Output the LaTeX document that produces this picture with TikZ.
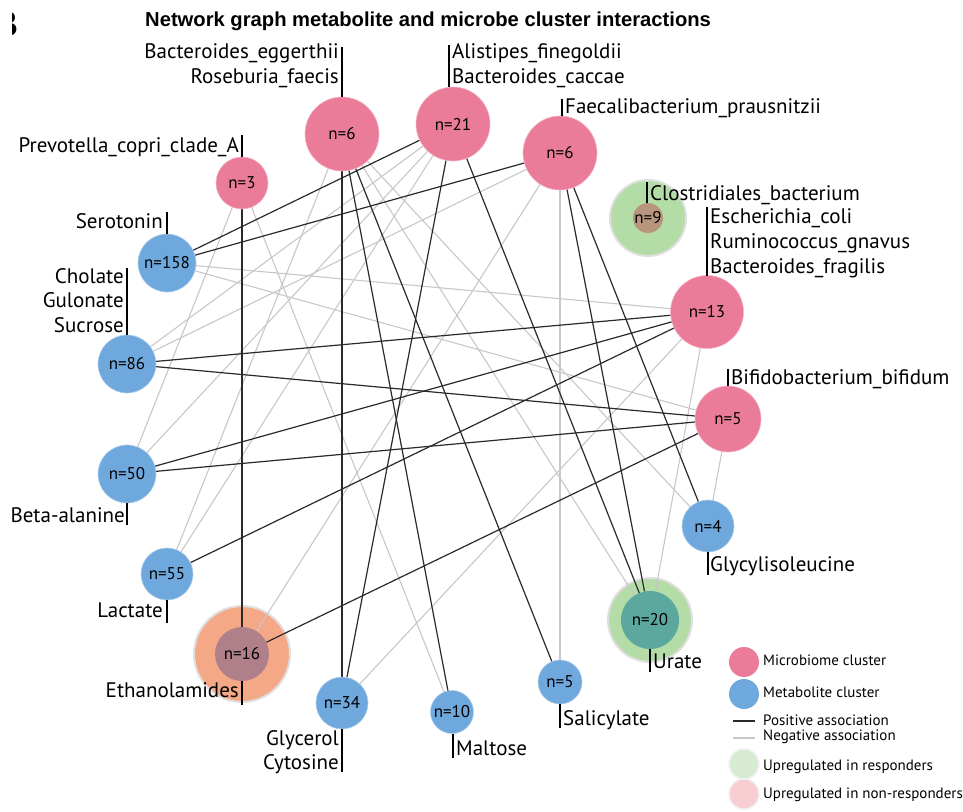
\documentclass[tikz,border=0pt]{standalone}
\usepackage{fontspec}
\setmainfont{PT Sans}
\newfontfamily\titlefont{Liberation Sans}
\pgfdeclarelayer{paper}
\pgfdeclarelayer{rings}
\pgfdeclarelayer{edges}
\pgfsetlayers{paper,rings,edges,main}
\definecolor{micro}{HTML}{EA7B99}
\definecolor{metab}{HTML}{6EA8DC}
\definecolor{resp}{HTML}{B3DCA7}
\definecolor{brownin}{HTML}{B8967E}
\definecolor{tealin}{HTML}{5CA89F}
\definecolor{orangeout}{HTML}{F4A886}
\definecolor{mauvein}{HTML}{B0808A}
\definecolor{posline}{HTML}{2A2A2A}
\definecolor{negline}{HTML}{C8C8C8}
\definecolor{legresp}{HTML}{D6EBD1}
\definecolor{legnon}{HTML}{F8CDD2}
\begin{document}
\begin{tikzpicture}[x=1pt,y=-1pt,
  clus/.style={circle, inner sep=0pt, outer sep=0pt, font=\fontsize{17}{17}\selectfont},
  mic/.style={clus, fill=micro, draw=micro!55!white, line width=0.6pt},
  met/.style={clus, fill=metab, draw=metab!55!white, line width=0.6pt},
  ringg/.style={circle, inner sep=0pt, fill=resp, draw=black!12, line width=2pt},
  ringo/.style={circle, inner sep=0pt, fill=orangeout, draw=black!12, line width=2pt},
  posedge/.style={draw=posline, line width=1.2pt},
  negedge/.style={draw=negline, line width=1.1pt},
  tick/.style={draw=black, line width=1.3pt},
  lab/.style={font=\fontsize{21}{21}\selectfont, inner sep=0pt},
  leg/.style={font=\fontsize{15}{15}\selectfont, inner sep=0pt, anchor=west},
  legdot/.style={circle, inner sep=0pt, minimum size=30pt}
]
\path[use as bounding box] (0,0) rectangle (963,811);
\clip (0,0) rectangle (963,811);
\begin{pgfonlayer}{paper}
\fill[white] (0,0) rectangle (963,811);
\end{pgfonlayer}

% title and clipped panel letter
\begin{scope}
\clip (12,0) rectangle (22,45);
\node[font=\titlefont\bfseries\fontsize{36}{36}\selectfont, anchor=base east, inner sep=0pt] (panel) at (19,36) {B};
\end{scope}
\node[font=\titlefont\bfseries\fontsize{20.2}{20.2}\selectfont, anchor=base west, inner sep=0pt] (title) at (145,27) {Network graph metabolite and microbe cluster interactions};

% outer rings
\begin{pgfonlayer}{rings}
\node[ringg, minimum size=76pt] (c9ring) at (648,218) {};
\node[ringg, minimum size=84pt] (u20ring) at (650,620) {};
\node[ringo, minimum size=96pt] (e16ring) at (242,654) {};
\end{pgfonlayer}

% microbiome clusters
\node[mic, minimum size=52pt] (p3) at (242,183) {n=3};
\node[mic, minimum size=74pt] (e6) at (342,134) {n=6};
\node[mic, minimum size=74pt] (a21) at (453,124) {n=21};
\node[mic, minimum size=74pt] (f6) at (560,153) {n=6};
\node[clus, fill=brownin, minimum size=30pt] (c9) at (648,218) {n=9};
\node[mic, minimum size=73pt] (m13) at (707,312) {n=13};
\node[mic, minimum size=66pt] (b5) at (728,419) {n=5};

% metabolite clusters
\node[met, minimum size=52pt] (g4) at (708,526) {n=4};
\node[clus, fill=tealin, minimum size=58pt] (u20) at (650,620) {n=20};
\node[met, minimum size=44pt] (s5) at (560,682) {n=5};
\node[met, minimum size=43pt] (m10) at (452,712) {n=10};
\node[met, minimum size=52pt] (g34) at (342,703) {n=34};
\node[clus, fill=mauvein, minimum size=54pt] (e16) at (242,654) {n=16};
\node[met, minimum size=52pt] (l55) at (167,574) {n=55};
\node[met, minimum size=58pt] (b50) at (127,474) {n=50};
\node[met, minimum size=58pt] (c86) at (127,364) {n=86};
\node[met, minimum size=58pt] (s158) at (167,263) {n=158};

% associations
\begin{pgfonlayer}{edges}
\draw[negedge] (p3) -- (b50);
\draw[negedge] (p3) -- (m10);
\draw[negedge] (e6) -- (l55);
\draw[negedge] (e6) -- (g4);
\draw[negedge] (e6) -- (u20);
\draw[negedge] (a21) -- (c86);
\draw[negedge] (a21) -- (b50);
\draw[negedge] (a21) -- (l55);
\draw[negedge] (f6) -- (c86);
\draw[negedge] (f6) -- (e16);
\draw[negedge] (f6) -- (s5);
\draw[negedge] (m13) -- (s158);
\draw[negedge] (m13) -- (g34);
\draw[negedge] (m13) -- (u20);
\draw[negedge] (b5) -- (s158);
\draw[negedge] (b5) -- (g4);
\draw[posedge] (p3) -- (e16);
\draw[posedge] (e6) -- (g34);
\draw[posedge] (e6) -- (m10);
\draw[posedge] (e6) -- (s5);
\draw[posedge] (a21) -- (s158);
\draw[posedge] (a21) -- (g34);
\draw[posedge] (a21) -- (u20);
\draw[posedge] (f6) -- (s158);
\draw[posedge] (f6) -- (u20);
\draw[posedge] (f6) -- (g4);
\draw[posedge] (m13) -- (c86);
\draw[posedge] (m13) -- (b50);
\draw[posedge] (m13) -- (l55);
\draw[posedge] (b5) -- (c86);
\draw[posedge] (b5) -- (b50);
\draw[posedge] (b5) -- (e16);
\end{pgfonlayer}

% label ticks
\draw[tick] (p3.north) -- ++(0,-22);
\draw[tick] (e6.north) -- ++(0,-50);
\draw[tick] ([xshift=-4pt]a21.north) -- ++(0,-42);
\draw[tick] ([xshift=2pt]f6.north) -- ++(0,-17);
\draw[tick] ([xshift=-1pt]c9.north) -- ++(0,-21);
\draw[tick] (m13.north) -- ++(0,-69);
\draw[tick] (b5.north) -- ++(0,-17);
\draw[tick] (s158.north) -- ++(0,-22);
\draw[tick] (c86.north) -- ++(0,-67);
\draw[tick] (b50.south) -- ++(0,22);
\draw[tick] (g4.south) -- ++(0,23);
\draw[tick] (l55.south) -- ++(0,23);
\draw[tick] (u20.south) -- ++(0,23);
\draw[tick] (e16.south) -- ++(0,24);
\draw[tick] (s5.south) -- ++(0,24);
\draw[tick] ([xshift=1pt]m10.south) -- ++(0,24);
\draw[tick] (g34.south) -- ++(0,43);

% labels
\node[lab, anchor=base east] (lEgg) at (339,58) {Bacteroides\_eggerthii};
\node[lab, anchor=base east] (lRos) at (339,83) {Roseburia\_faecis};
\node[lab, anchor=base west] (lAli) at (452,58) {Alistipes\_finegoldii};
\node[lab, anchor=base west] (lBca) at (452,83) {Bacteroides\_caccae};
\node[lab, anchor=base east] (lPre) at (239,152) {Prevotella\_copri\_clade\_A};
\node[lab, anchor=base west] (lFae) at (565,113) {Faecalibacterium\_prausnitzii};
\node[lab, anchor=base west] (lClo) at (650,200) {Clostridiales\_bacterium};
\node[lab, anchor=base west] (lEsc) at (710,223) {Escherichia\_coli};
\node[lab, anchor=base west] (lRum) at (710,248) {Ruminococcus\_gnavus};
\node[lab, anchor=base west] (lBfr) at (710,273) {Bacteroides\_fragilis};
\node[lab, anchor=base west] (lBif) at (731,384) {Bifidobacterium\_bifidum};
\node[lab, anchor=base east] (lSer) at (163,228) {Serotonin};
\node[lab, anchor=base east] (lCho) at (124,283) {Cholate};
\node[lab, anchor=base east] (lGul) at (124,307) {Gulonate};
\node[lab, anchor=base east] (lSuc) at (124,332) {Sucrose};
\node[lab, anchor=base east] (lBet) at (125,522) {Beta-alanine};
\node[lab, anchor=base west] (lGly) at (710,571) {Glycylisoleucine};
\node[lab, anchor=base east] (lLac) at (163,617) {Lactate};
\node[lab, anchor=base west] (lUra) at (653,668) {Urate};
\node[lab, anchor=base east] (lEth) at (239,697) {Ethanolamides};
\node[lab, anchor=base west] (lSal) at (563,725) {Salicylate};
\node[lab, anchor=base west] (lMal) at (456,755) {Maltose};
\node[lab, anchor=base east] (lGlc) at (339,745) {Glycerol};
\node[lab, anchor=base east] (lCyt) at (339,769) {Cytosine};

% legend
\node[legdot, fill=micro] (legMic) at (744,662) {};
\node[leg] (legMicT) at (763,660) {Microbiome cluster};
\node[legdot, fill=metab] (legMet) at (744,694) {};
\node[leg] (legMetT) at (763,692) {Metabolite cluster};
\coordinate (lp1) at (733,721);
\coordinate (lp2) at (755,721);
\draw[draw=posline, line width=2pt] (lp1) -- (lp2);
\node[leg] (legPosT) at (763,720) {Positive association};
\coordinate (ln1) at (733,738);
\coordinate (ln2) at (755,738);
\draw[draw=negline, line width=2pt] (ln1) -- (ln2);
\node[leg] (legNegT) at (763,737) {Negative association};
\node[legdot, fill=legresp, draw=black!6, line width=1.5pt] (legResp) at (744,764) {};
\node[leg] (legRespT) at (763,767) {Upregulated in responders};
\node[legdot, fill=legnon, draw=black!6, line width=1.5pt] (legNon) at (744,794) {};
\node[leg] (legNonT) at (763,795) {Upregulated in non-responders};
\end{tikzpicture}
\end{document}
